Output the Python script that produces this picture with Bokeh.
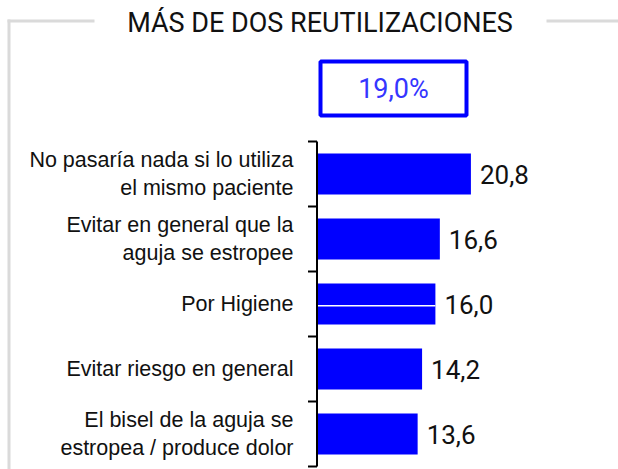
import math
from bokeh.plotting import figure
from bokeh.models import Range1d, Label, BoxAnnotation, ColumnDataSource
from bokeh.core.properties import value
from bokeh.embed import file_html
from bokeh.resources import INLINE

# ---------------- data ----------------
title_text = "MÁS DE DOS REUTILIZACIONES"
total_pct = 19.0
categories = [
    "No pasaría nada si lo utiliza\nel mismo paciente",
    "Evitar en general que la\naguja se estropee",
    "Por Higiene",
    "Evitar riesgo en general",
    "El bisel de la aguja se\nestropea / produce dolor",
]
values = [20.8, 16.6, 16.0, 14.2, 13.6]

# ---------------- geometry ----------------
W, H = 618, 469
OFF = 0             # page offset of the figure
PX_X = 7.4          # pixels per value unit
X0_PX = 316.5       # figure px of value 0
ROW_PX = 65.0       # pixels per row
TOP_PX = 141.0      # figure px of the top row boundary

n = len(values)
top_b = n + 0.5
y_end = top_b + TOP_PX / ROW_PX
y_start = y_end - H / ROW_PX
x_start = -X0_PX / PX_X
x_end = (W - X0_PX) / PX_X


def X(sx):  # page px -> data x
    return (sx - OFF - X0_PX) / PX_X


def Y(sy):  # page px -> data y
    return y_end - (sy - OFF) / ROW_PX


p = figure(width=W, height=H, output_backend="svg", toolbar_location=None,
           x_range=Range1d(x_start, x_end), y_range=Range1d(y_start, y_end),
           x_axis_type=None, y_axis_type=None, min_border=0,
           outline_line_color=None, background_fill_color="white",
           border_fill_color="white")
p.grid.visible = False

ys = [n - i for i in range(n)]
labels = [f"{v:.1f}".replace(".", ",") for v in values]
src = ColumnDataSource(dict(y=ys, v=values, cat=categories, lab=labels))

# frame decoration (grey)
grey = "#dadada"
p.line([X(7), X(94)], [Y(20.5), Y(20.5)], line_color=grey, line_width=3)
p.line([X(546), X(640)], [Y(20.5), Y(20.5)], line_color=grey, line_width=3)
p.line([X(8.5), X(8.5)], [Y(19), Y(480)], line_color=grey, line_width=3)

# title
p.add_layout(Label(x=X(319.5), y=Y(22), text=title_text, text_align="center",
                   text_baseline="middle", text_font="Roboto",
                   text_font_size="27px", text_color="#111111"))

# total box
p.add_layout(BoxAnnotation(left=X(320), right=X(466), top=Y(61), bottom=Y(115),
                           fill_alpha=0, line_color="#0000ff", line_alpha=1.0,
                           line_width=4))
p.add_layout(Label(x=X(393), y=Y(88), text=f"{total_pct:.1f}%".replace(".", ","),
                   text_align="center", text_baseline="middle",
                   text_font="Roboto", text_font_size="27px",
                   text_color="#3535ff"))

# bars
p.hbar(y="y", left=0, right="v", height=41 / ROW_PX, source=src,
       fill_color="#0000ff", line_color=None)
# thin white line across the third bar
p.segment(x0=0, x1=values[2], y0=ys[2] - 0.025, y1=ys[2] - 0.025,
          line_color="white", line_width=1.5)

# axis line and ticks
bounds = [k + 0.5 for k in range(n + 1)]
p.segment(x0=0, y0=bounds[0], x1=0, y1=bounds[-1], line_color="black", line_width=2)
p.ray(x=[0] * len(bounds), y=bounds, length=9, length_units="screen",
      angle=math.pi, line_color="black", line_width=2)

# category labels
p.text(x=0, y="y", text="cat", source=src, x_offset=-23.5, text_align="right",
       text_baseline="middle", text_font=value("Liberation Sans"),
       text_font_size="21.5px", text_color="#111111", text_line_height=1.15)

# value labels
p.text(x="v", y="y", text="lab", source=src, x_offset=9, text_align="left",
       text_baseline="middle", text_font=value("Roboto"),
       text_font_size="26px", text_color="#111111")

open("out.html", "w").write(file_html(p, INLINE))
